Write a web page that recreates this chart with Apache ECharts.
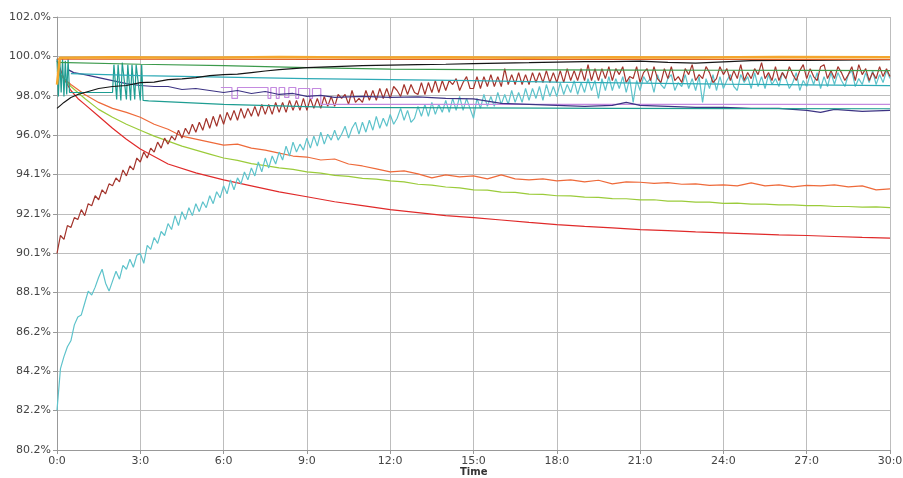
<!DOCTYPE html>
<html>
<head>
<meta charset="utf-8">
<script src="https://cdn.jsdelivr.net/npm/echarts@6/dist/echarts.min.js"></script>
<style>
  html, body { margin: 0; padding: 0; background: #fff; }
  #container { width: 903px; height: 478px; }
</style>
</head>
<body>
<div id="container"></div>
<script>
// y axis tick labels (bottom to top)
var yLabels = ['80.2%', '82.2%', '84.2%', '86.2%', '88.1%', '90.1%', '92.1%', '94.1%', '96.0%', '98.0%', '100.0%', '102.0%'];
var yMin = 80.2;
var yMax = 102.0;

// time in minutes, 7.5 s step (noisy series), one row per minute
var tFine = [
  0,0.125,0.25,0.375,0.5,0.625,0.75,0.875,
  1,1.125,1.25,1.375,1.5,1.625,1.75,1.875,
  2,2.125,2.25,2.375,2.5,2.625,2.75,2.875,
  3,3.125,3.25,3.375,3.5,3.625,3.75,3.875,
  4,4.125,4.25,4.375,4.5,4.625,4.75,4.875,
  5,5.125,5.25,5.375,5.5,5.625,5.75,5.875,
  6,6.125,6.25,6.375,6.5,6.625,6.75,6.875,
  7,7.125,7.25,7.375,7.5,7.625,7.75,7.875,
  8,8.125,8.25,8.375,8.5,8.625,8.75,8.875,
  9,9.125,9.25,9.375,9.5,9.625,9.75,9.875,
  10,10.125,10.25,10.375,10.5,10.625,10.75,10.875,
  11,11.125,11.25,11.375,11.5,11.625,11.75,11.875,
  12,12.125,12.25,12.375,12.5,12.625,12.75,12.875,
  13,13.125,13.25,13.375,13.5,13.625,13.75,13.875,
  14,14.125,14.25,14.375,14.5,14.625,14.75,14.875,
  15,15.125,15.25,15.375,15.5,15.625,15.75,15.875,
  16,16.125,16.25,16.375,16.5,16.625,16.75,16.875,
  17,17.125,17.25,17.375,17.5,17.625,17.75,17.875,
  18,18.125,18.25,18.375,18.5,18.625,18.75,18.875,
  19,19.125,19.25,19.375,19.5,19.625,19.75,19.875,
  20,20.125,20.25,20.375,20.5,20.625,20.75,20.875,
  21,21.125,21.25,21.375,21.5,21.625,21.75,21.875,
  22,22.125,22.25,22.375,22.5,22.625,22.75,22.875,
  23,23.125,23.25,23.375,23.5,23.625,23.75,23.875,
  24,24.125,24.25,24.375,24.5,24.625,24.75,24.875,
  25,25.125,25.25,25.375,25.5,25.625,25.75,25.875,
  26,26.125,26.25,26.375,26.5,26.625,26.75,26.875,
  27,27.125,27.25,27.375,27.5,27.625,27.75,27.875,
  28,28.125,28.25,28.375,28.5,28.625,28.75,28.875,
  29,29.125,29.25,29.375,29.5,29.625,29.75,29.875,
  30];
// time in minutes, 30 s step
var tHalf = [0,0.5,1,1.5,2,2.5,3,3.5,4,4.5,5,5.5,6,6.5,7,7.5,8,8.5,9,9.5,10,10.5,11,11.5,12,12.5,13,13.5,14,14.5,15,15.5,16,16.5,17,17.5,18,18.5,19,19.5,20,20.5,21,21.5,22,22.5,23,23.5,24,24.5,25,25.5,26,26.5,27,27.5,28,28.5,29,29.5,30];

var cyan = [
  82.2,84.3,84.9,85.4,85.7,86.5,86.9,87.0,
  87.6,88.2,88.0,88.4,88.9,89.3,88.6,88.2,
  88.7,89.2,88.8,89.5,89.3,89.8,89.4,90.0,
  90.1,89.6,90.5,90.3,90.9,90.6,91.2,91.0,
  91.6,91.3,92.0,91.5,92.2,91.8,92.4,92.0,
  92.6,92.2,92.7,92.4,93.0,92.6,93.2,92.9,
  93.5,93.1,93.8,93.3,93.9,93.6,94.2,93.8,
  94.4,94.0,94.7,94.2,94.9,94.4,95.0,94.6,
  95.2,94.8,95.5,95.0,95.7,95.2,95.6,95.3,
  95.9,95.4,96.0,95.5,96.2,95.6,96.1,95.8,
  96.3,95.8,96.1,96.5,95.9,96.4,96.7,96.1,
  96.7,96.2,96.8,96.3,97.0,96.4,96.9,96.5,
  97.1,96.6,96.9,97.4,96.8,97.3,96.7,96.9,
  97.5,97.0,97.6,97.0,97.7,97.1,97.6,97.2,
  97.8,97.2,97.9,97.3,98.0,97.3,97.9,97.4,
  96.9,97.9,97.4,98.1,97.5,98.0,97.5,98.2,
  97.6,98.1,97.6,98.3,97.7,98.2,97.7,98.4,
  97.8,98.4,97.9,98.5,97.8,98.6,98.0,98.5,
  98.0,98.7,98.1,98.6,98.2,98.8,98.1,98.7,
  98.2,98.9,98.3,98.8,97.9,98.9,98.3,99.0,
  98.3,98.9,98.4,99.0,98.2,98.9,97.7,98.8,
  98.3,99.0,98.7,98.9,98.2,99.1,98.6,98.4,
  98.9,99.1,98.3,98.7,98.5,99.1,98.4,98.9,
  98.3,99.0,97.7,98.9,98.4,99.1,98.3,99.0,
  98.4,98.8,99.1,98.5,98.3,99.1,98.7,99.0,
  98.4,99.2,98.5,99.0,98.4,99.1,98.6,98.9,
  98.5,99.2,98.9,98.4,98.7,99.2,98.3,98.8,
  98.5,99.1,98.6,99.2,98.4,99.0,98.5,99.2,
  98.6,99.2,98.8,98.5,99.1,99.3,98.5,98.9,
  98.6,99.2,98.7,99.3,98.6,99.1,98.7,99.3,
  98.9];

var brown = [
  90.1,91.0,90.8,91.5,91.4,91.9,91.8,92.3,
  92.0,92.6,92.5,93.0,92.8,93.3,93.1,93.6,
  93.5,93.9,93.7,94.3,94.0,94.5,94.3,94.9,
  94.7,95.2,94.9,95.4,95.2,95.7,95.4,95.9,
  95.6,96.0,95.8,96.3,95.9,96.4,96.1,96.6,
  96.2,96.7,96.3,96.9,96.4,97.0,96.5,97.1,
  96.6,97.2,96.8,97.3,96.8,97.4,96.9,97.4,
  97.0,97.5,97.0,97.6,97.1,97.6,97.1,97.7,
  97.2,97.7,97.2,97.8,97.3,97.8,97.3,97.9,
  97.3,97.9,97.4,97.9,97.4,98.0,97.5,98.0,
  97.5,98.1,97.9,98.1,97.6,98.3,97.7,97.9,
  97.7,98.3,97.8,98.3,97.8,98.4,97.9,98.4,
  97.9,98.5,98.3,98.0,98.6,98.1,98.6,98.2,
  98.1,98.7,98.1,98.7,98.2,98.8,98.2,98.8,
  98.3,98.8,98.6,98.9,98.3,98.7,99.0,98.4,
  98.4,99.0,98.4,99.0,98.5,99.1,98.5,99.0,
  98.5,99.4,98.6,99.1,98.6,99.2,98.6,99.1,
  98.6,99.2,98.7,99.2,98.7,99.3,98.7,99.2,
  98.7,99.3,98.7,99.4,98.8,99.3,98.8,99.4,
  98.8,99.6,98.8,99.4,98.8,99.4,98.9,99.5,
  98.8,99.4,99.1,99.5,98.7,99.0,98.9,99.5,
  98.7,99.2,99.4,98.8,99.5,98.9,98.7,99.4,
  98.9,99.5,98.8,99.0,98.7,99.4,99.1,99.6,
  98.8,99.1,98.9,99.5,99.2,98.7,98.9,99.5,
  99.1,99.4,98.8,99.3,98.9,99.6,98.8,99.2,
  98.9,99.4,99.1,99.7,98.9,99.2,98.8,99.5,
  98.8,99.2,98.9,99.5,99.1,98.8,99.3,99.6,
  98.9,99.4,99.0,98.8,99.5,99.6,98.9,99.3,
  98.9,99.5,99.2,98.8,99.1,99.5,98.8,99.6,
  99.1,99.4,98.8,99.2,98.9,99.5,99.0,99.4,
  99.0];

var tomato = [99.2,98.6,98.1,97.7,97.4,97.2,96.95,96.6,96.35,96.0,95.85,95.7,95.55,95.6,95.4,95.3,95.15,95.0,94.95,94.8,94.85,94.6,94.5,94.35,94.2,94.25,94.1,93.9,94.05,93.95,94.0,93.85,94.05,93.85,93.8,93.85,93.75,93.8,93.7,93.78,93.6,93.7,93.68,93.62,93.66,93.58,93.6,93.52,93.55,93.5,93.65,93.5,93.55,93.45,93.52,93.5,93.55,93.45,93.5,93.3,93.35];

var yellowGreen = [99.3,98.5,97.9,97.35,96.95,96.6,96.3,96.0,95.75,95.5,95.3,95.1,94.9,94.78,94.62,94.52,94.4,94.33,94.2,94.14,94.03,93.98,93.88,93.84,93.75,93.7,93.58,93.54,93.44,93.4,93.3,93.28,93.18,93.17,93.08,93.07,93.0,92.99,92.93,92.92,92.86,92.85,92.79,92.8,92.73,92.73,92.68,92.68,92.62,92.63,92.58,92.58,92.54,92.54,92.5,92.5,92.46,92.46,92.43,92.44,92.4];

var tRed = [0,0.25,0.5,0.75,1,1.5,2,2.5,3,4,5,6,7,8,9,10,11,12,13,14,15,16,17,18,19,20,21,22,23,24,25,26,27,28,29,30];
var red = [99.8,98.9,98.3,97.9,97.6,97.0,96.4,95.85,95.35,94.6,94.15,93.8,93.5,93.2,92.95,92.7,92.5,92.3,92.15,92.0,91.9,91.78,91.66,91.55,91.46,91.38,91.3,91.24,91.18,91.13,91.08,91.03,91.0,90.95,90.9,90.87];

var tBlack = [0,0.25,0.5,0.75,1,1.5,2,2.5,3,3.5,4,4.5,5,5.5,6,6.5,7,7.5,8,8.5,9,10,11,12,13,14,15,16,17,18,19,20,21,22,23,24,25,26,27,28,29,30];
var black = [97.4,97.7,97.95,98.1,98.2,98.4,98.5,98.55,98.7,98.72,98.85,98.88,98.95,99.05,99.1,99.12,99.2,99.28,99.35,99.4,99.45,99.5,99.55,99.58,99.6,99.62,99.65,99.68,99.7,99.73,99.75,99.75,99.78,99.72,99.68,99.74,99.8,99.82,99.82,99.83,99.84,99.85];

var tGreen = [0,3,6,9,12,15,18,21,24,27,30];
var green = [99.72,99.62,99.55,99.45,99.38,99.35,99.34,99.33,99.32,99.31,99.3];

var tTealA = [0.5,3,6,9,12,15,18,21,24,27,30];
var tealA = [99.15,99.05,98.97,98.9,98.85,98.8,98.72,98.67,98.62,98.58,98.55];

var tTealB = [0,0.05,0.1,0.15,0.2,0.25,0.3,0.35,0.4,0.45,0.5,2.0,2.05,2.15,2.2,2.3,2.35,2.5,2.55,2.65,2.7,2.8,2.85,3.0,3.05,3.1,3.3,6,10,15,20,25,30];
var tealB = [99.9,98.0,99.9,98.2,99.9,98.0,99.8,98.1,99.9,98.2,98.2,98.2,99.6,97.85,99.6,97.8,99.7,97.85,99.6,97.8,99.6,97.85,99.6,97.8,99.6,97.8,97.78,97.6,97.45,97.42,97.4,97.39,97.38];

var tNavy = [0.4,0.6,1,1.5,2,2.5,3,3.5,4,4.5,5,5.5,6,6.5,7,7.5,8,8.5,9,9.5,10,11,12,13,14,15,16,17,18,19,20,20.5,21,22,23,24,25,26,27,27.5,28,29,30];
var navy = [99.35,99.2,99.1,98.95,98.8,98.65,98.55,98.5,98.5,98.35,98.4,98.3,98.2,98.3,98.15,98.25,98.1,98.15,98.0,98.05,97.95,98.0,97.95,97.98,97.9,97.88,97.65,97.6,97.55,97.5,97.55,97.7,97.55,97.5,97.45,97.45,97.4,97.4,97.3,97.2,97.35,97.25,97.3];

var tViolet = [5.9,6.3,6.3,6.5,6.5,7.6,7.6,7.7,7.7,7.9,7.9,8.0,8.0,8.2,8.2,8.35,8.35,8.6,8.6,8.7,8.7,9.1,9.1,9.2,9.2,9.5,9.5,30];
var violet = [98.45,98.45,97.9,97.9,98.45,98.45,97.9,97.9,98.45,98.45,97.9,97.9,98.45,98.45,97.95,97.95,98.45,98.45,97.9,97.9,98.4,98.4,97.9,97.9,98.4,98.4,97.6,97.6];

var tOrange = [0,0.1,2,5,8,11,14,17,20,23,26,30];
var orange = [98.6,99.95,99.97,99.95,99.98,99.96,99.97,99.95,99.97,99.96,99.98,99.97];

var tRedOrange = [0,10,20,30];
var redOrange = [99.88,99.87,99.87,99.86];

// pair up time and values
function pairs(t, v) {
    var out = [];
    for (var i = 0; i < v.length; i++) {
        out.push([t[i], v[i]]);
    }
    return out;
}

function line(name, color, t, v, width) {
    return {
        name: name,
        type: 'line',
        showSymbol: false,
        symbol: 'none',
        lineStyle: { color: color, width: width || 1.2 },
        data: pairs(t, v)
    };
}

// y tick positions, evenly spaced between min and max
var yStep = (yMax - yMin) / (yLabels.length - 1);
var yTicks = [];
for (var k = 0; k < yLabels.length; k++) {
    yTicks.push(+(yMin + k * yStep).toFixed(4));
}

var chart = echarts.init(document.getElementById('container'), null, { renderer: 'canvas' });

var option = {
    animation: false,
    backgroundColor: '#fff',
    grid: { left: 57, right: 13, top: 17, bottom: 28, containLabel: false, outerBoundsMode: 'none' },
    // axis title, placed under the middle of the plot
    graphic: [{
        type: 'text',
        left: 460,
        top: 467,
        style: { text: 'Time', font: 'bold 10px "DejaVu Sans"', fill: '#333' }
    }],
    xAxis: {
        type: 'value',
        min: 0,
        max: 30,
        interval: 3,
        axisLine: { lineStyle: { color: '#999' } },
        axisTick: { show: true, length: 4, lineStyle: { color: '#999' } },
        axisLabel: {
            fontFamily: 'DejaVu Sans', fontSize: 11, color: '#444', margin: 6,
            formatter: function (v) { return v + ':0'; }
        },
        splitLine: { show: true, lineStyle: { color: '#bdbdbd', width: 1 } }
    },
    yAxis: {
        type: 'value',
        min: yMin,
        max: yMax,
        axisLine: { show: true, lineStyle: { color: '#999' } },
        axisTick: { show: true, length: 4, customValues: yTicks, lineStyle: { color: '#999' } },
        axisLabel: {
            fontFamily: 'DejaVu Sans', fontSize: 11, color: '#444', margin: 6,
            customValues: yTicks,
            formatter: function (v) {
                var i = Math.round((v - yMin) / yStep);
                return yLabels[i];
            }
        },
        splitLine: { show: true, lineStyle: { color: '#bdbdbd', width: 1 } }
    },
    series: [
        line('red', '#e02a2a', tRed, red),
        line('yellowGreen', '#9bcb3a', tHalf, yellowGreen),
        line('tomato', '#ee6a3a', tHalf, tomato),
        line('cyan', '#5ec3cb', tFine, cyan),
        line('brown', '#a3342c', tFine, brown),
        line('violet', '#c48ae0', tViolet, violet),
        line('navy', '#3d3484', tNavy, navy),
        line('tealB', '#1e9d92', tTealB, tealB),
        line('tealA', '#2eaab6', tTealA, tealA),
        line('green', '#3c9a4c', tGreen, green),
        line('black', '#151515', tBlack, black),
        line('redOrange', '#e0602a', tRedOrange, redOrange),
        line('orange', '#f4a62c', tOrange, orange, 2.5)
    ]
};

chart.setOption(option);
</script>
</body>
</html>
